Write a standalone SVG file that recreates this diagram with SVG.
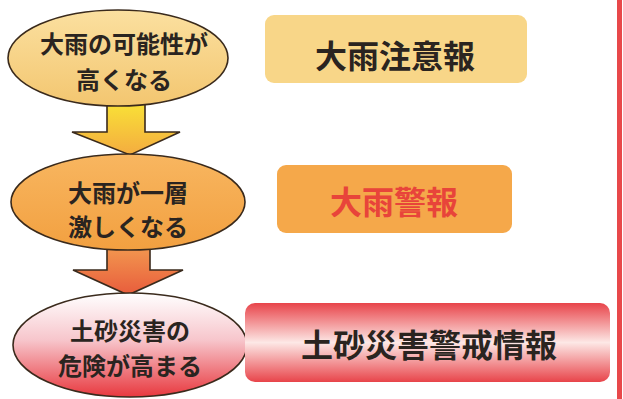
<svg xmlns="http://www.w3.org/2000/svg" width="623" height="399" viewBox="0 0 623 399">
<style>
.t{font-family:"Noto Sans CJK JP","Noto Sans",sans-serif;font-weight:bold;text-anchor:middle;dominant-baseline:central}
.e{font-size:24px;fill:#2a2420}
.b{font-size:32px}
.ol{stroke:#3a2a1c;stroke-width:1.6}
</style>
<defs>
<linearGradient id="g1" x1="0" y1="0" x2="0" y2="1"><stop offset="0" stop-color="#fbe0a0"/><stop offset="1" stop-color="#f3c670"/></linearGradient>
<linearGradient id="g2" x1="0" y1="0" x2="0" y2="1"><stop offset="0" stop-color="#f8b660"/><stop offset="1" stop-color="#f2a040"/></linearGradient>
<linearGradient id="g3" x1="0" y1="0" x2="0" y2="1"><stop offset="0" stop-color="#ffffff"/><stop offset="0.45" stop-color="#f7c6cc"/><stop offset="1" stop-color="#e8383e"/></linearGradient>
<linearGradient id="a1" x1="0" y1="0" x2="0" y2="1"><stop offset="0" stop-color="#f9e436"/><stop offset="1" stop-color="#f4ac40"/></linearGradient>
<linearGradient id="a2" x1="0" y1="0" x2="0" y2="1"><stop offset="0" stop-color="#f39a50"/><stop offset="1" stop-color="#e85c3c"/></linearGradient>
<linearGradient id="r3" x1="0" y1="0" x2="0" y2="1"><stop offset="0" stop-color="#e8444a"/><stop offset="0.5" stop-color="#fde8e6"/><stop offset="1" stop-color="#e8444a"/></linearGradient>
</defs>
<rect x="617" y="0" width="5" height="399" fill="#e8484a"/>
<g id="connectors">
<path class="ol" d="M107,100 L145,100 L145,132 L180,132 L130,155 L72,132 L107,132 Z" fill="url(#a1)"/>
<path class="ol" d="M107,245 L150,245 L150,270 L183,270 L128,295 L73,270 L107,270 Z" fill="url(#a2)"/>
</g>
<g id="node1">
<ellipse class="ol" cx="118" cy="58" rx="110" ry="48" fill="url(#g1)"/>
<text class="t e" x="124" y="42">大雨の可能性が</text>
<text class="t e" x="124" y="78">高くなる</text>
</g>
<g id="node2">
<ellipse class="ol" cx="128" cy="202" rx="117" ry="48" fill="url(#g2)"/>
<text class="t e" x="128" y="191">大雨が一層</text>
<text class="t e" x="128" y="225">激しくなる</text>
</g>
<g id="node3">
<ellipse class="ol" cx="130" cy="345" rx="117" ry="52" fill="url(#g3)"/>
<text class="t e" x="130" y="329">土砂災害の</text>
<text class="t e" x="130" y="364">危険が高まる</text>
</g>
<g id="box1">
<rect x="265" y="15" width="262" height="68" rx="9" fill="#f8d688"/>
<text class="t b" x="395" y="54" fill="#2a2420">大雨注意報</text>
</g>
<g id="box2">
<rect x="277" y="165" width="235" height="68" rx="9" fill="#f5a84a"/>
<text class="t b" x="394" y="200" fill="#e8443a">大雨警報</text>
</g>
<g id="box3">
<rect x="245" y="303" width="365" height="79" rx="10" fill="url(#r3)"/>
<text class="t b" x="429" y="343" fill="#2a2420">土砂災害警戒情報</text>
</g>
</svg>
